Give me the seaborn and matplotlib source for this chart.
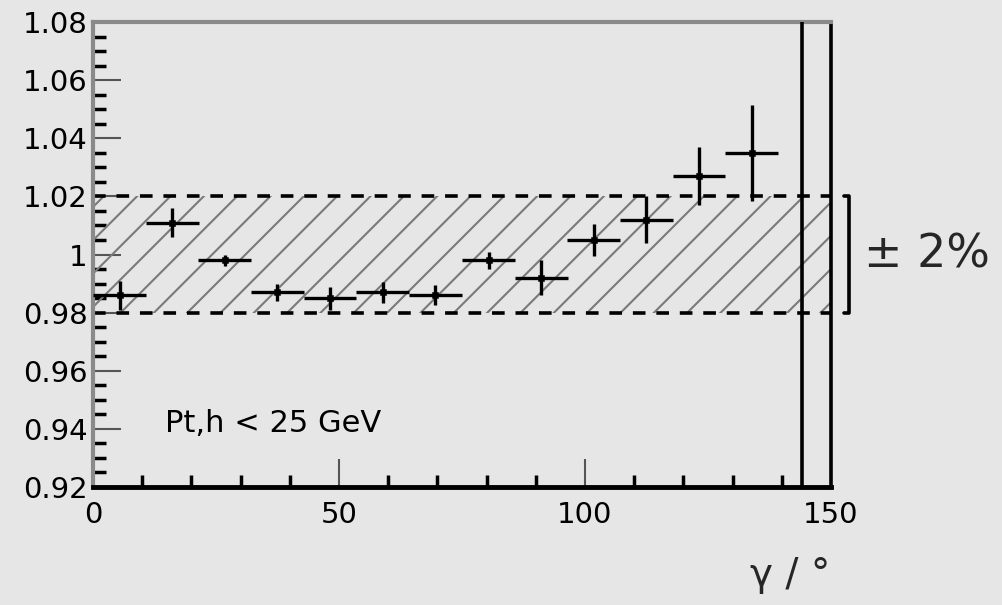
"""
Ratio vs gamma with +-2% band, recreated from a scanned figure
"""
import numpy as np
import matplotlib
matplotlib.use('Agg')
import matplotlib.pyplot as plt
import matplotlib.transforms as mtransforms
import seaborn as sns
import pandas as pd

# ── Data ──
GAMMA = [5.4, 16.1, 26.8, 37.5, 48.2, 58.9, 69.6, 80.4, 91.1, 101.8, 112.5, 123.2, 133.9]
GAMMA_ERR = [5.36, 5.36, 5.36, 5.36, 5.36, 5.36, 5.36, 5.36, 5.36, 5.36, 5.36, 5.36, 5.36]
RATIO = [0.986, 1.011, 0.998, 0.987, 0.985, 0.987, 0.986, 0.998, 0.992, 1.005, 1.012, 1.027, 1.035]
RATIO_ERR = [0.005, 0.005, 0.002, 0.003, 0.004, 0.0035, 0.0035, 0.003, 0.006, 0.0055, 0.008, 0.010, 0.0165]

BAND_LO, BAND_HI = 0.98, 1.02
CUT_GAMMA = 144.1
X_TICKS = [0, 50, 100, 150]
Y_TICKS = [0.92, 0.94, 0.96, 0.98, 1.0, 1.02, 1.04, 1.06, 1.08]
Y_TICK_LABELS = ['0.92', '0.94', '0.96', '0.98', '1', '1.02', '1.04', '1.06', '1.08']
CUT_TEXT = 'Pt,h < 25 GeV'
BAND_TEXT = '± 2%'

BG = '#e6e6e6'

sns.set_theme(style='ticks')
plt.rcParams['font.family'] = ['DejaVu Sans']
plt.rcParams['hatch.linewidth'] = 1.5

df = pd.DataFrame({'gamma': GAMMA, 'ratio': RATIO})

fig = plt.figure(figsize=(10.03, 6.05), dpi=100, facecolor=BG)
ax = fig.add_axes([0.0927, 0.195, 0.7358, 0.7685], facecolor=BG)

# hatched +-2% band
ax.fill_between([0, 150], BAND_LO, BAND_HI, facecolor='none', edgecolor='#7a7a7a',
                hatch='/', linewidth=0, zorder=1)
for yb in (BAND_LO, BAND_HI):
    ax.axhline(yb, color='black', linewidth=2.6, dashes=(3.5, 3.0), zorder=2)

ax.axvline(CUT_GAMMA, color='black', linewidth=2.6, zorder=3)

ax.errorbar(GAMMA, RATIO, xerr=GAMMA_ERR, yerr=RATIO_ERR, fmt='none',
            ecolor='black', elinewidth=2.4, capsize=0, zorder=4)
sns.scatterplot(data=df, x='gamma', y='ratio', marker='s', s=22, color='black',
                edgecolor='black', ax=ax, zorder=5, legend=False)

ax.set_xlim(0, 150)
ax.set_ylim(0.92, 1.08)
ax.set_xticks(X_TICKS)
ax.set_xticks(np.arange(0, 151, 10), minor=True)
ax.set_yticks(Y_TICKS)
ax.set_yticklabels(Y_TICK_LABELS)
ax.set_yticks(np.arange(0.92, 1.0801, 0.005), minor=True)
ax.tick_params(axis='both', which='major', direction='in', length=20, width=1.5,
               color='#555555', labelsize=21, labelcolor='black')
ax.tick_params(axis='both', which='minor', direction='in', length=9, width=2.5,
               color='black')
ax.tick_params(axis='x', which='major', pad=10)
ax.tick_params(axis='y', which='major', pad=4)

for side in ['top', 'left']:
    ax.spines[side].set_color('#8a8a8a')
    ax.spines[side].set_linewidth(3)
ax.spines['bottom'].set_color('black')
ax.spines['bottom'].set_linewidth(3.5)
ax.spines['right'].set_color('black')
ax.spines['right'].set_linewidth(2.6)

ax.set_xlabel('')
ax.set_ylabel('')

ax.text(14.6, 0.942, CUT_TEXT, fontsize=22, va='center', ha='left', color='black')

# bracket and label for the band
trans = mtransforms.blended_transform_factory(ax.transAxes, ax.transData)
ax.plot([1.018, 1.025, 1.025, 1.018], [BAND_HI, BAND_HI, BAND_LO, BAND_LO],
        color='black', linewidth=2.6, transform=trans, clip_on=False)
ax.text(1.045, 1.0, BAND_TEXT, fontsize=33, va='center', ha='left', transform=trans)

fig.text(0.828, 0.05, 'γ / °', fontsize=28, ha='right', va='center')

fig.savefig('out.png', dpi=100, facecolor=BG)
